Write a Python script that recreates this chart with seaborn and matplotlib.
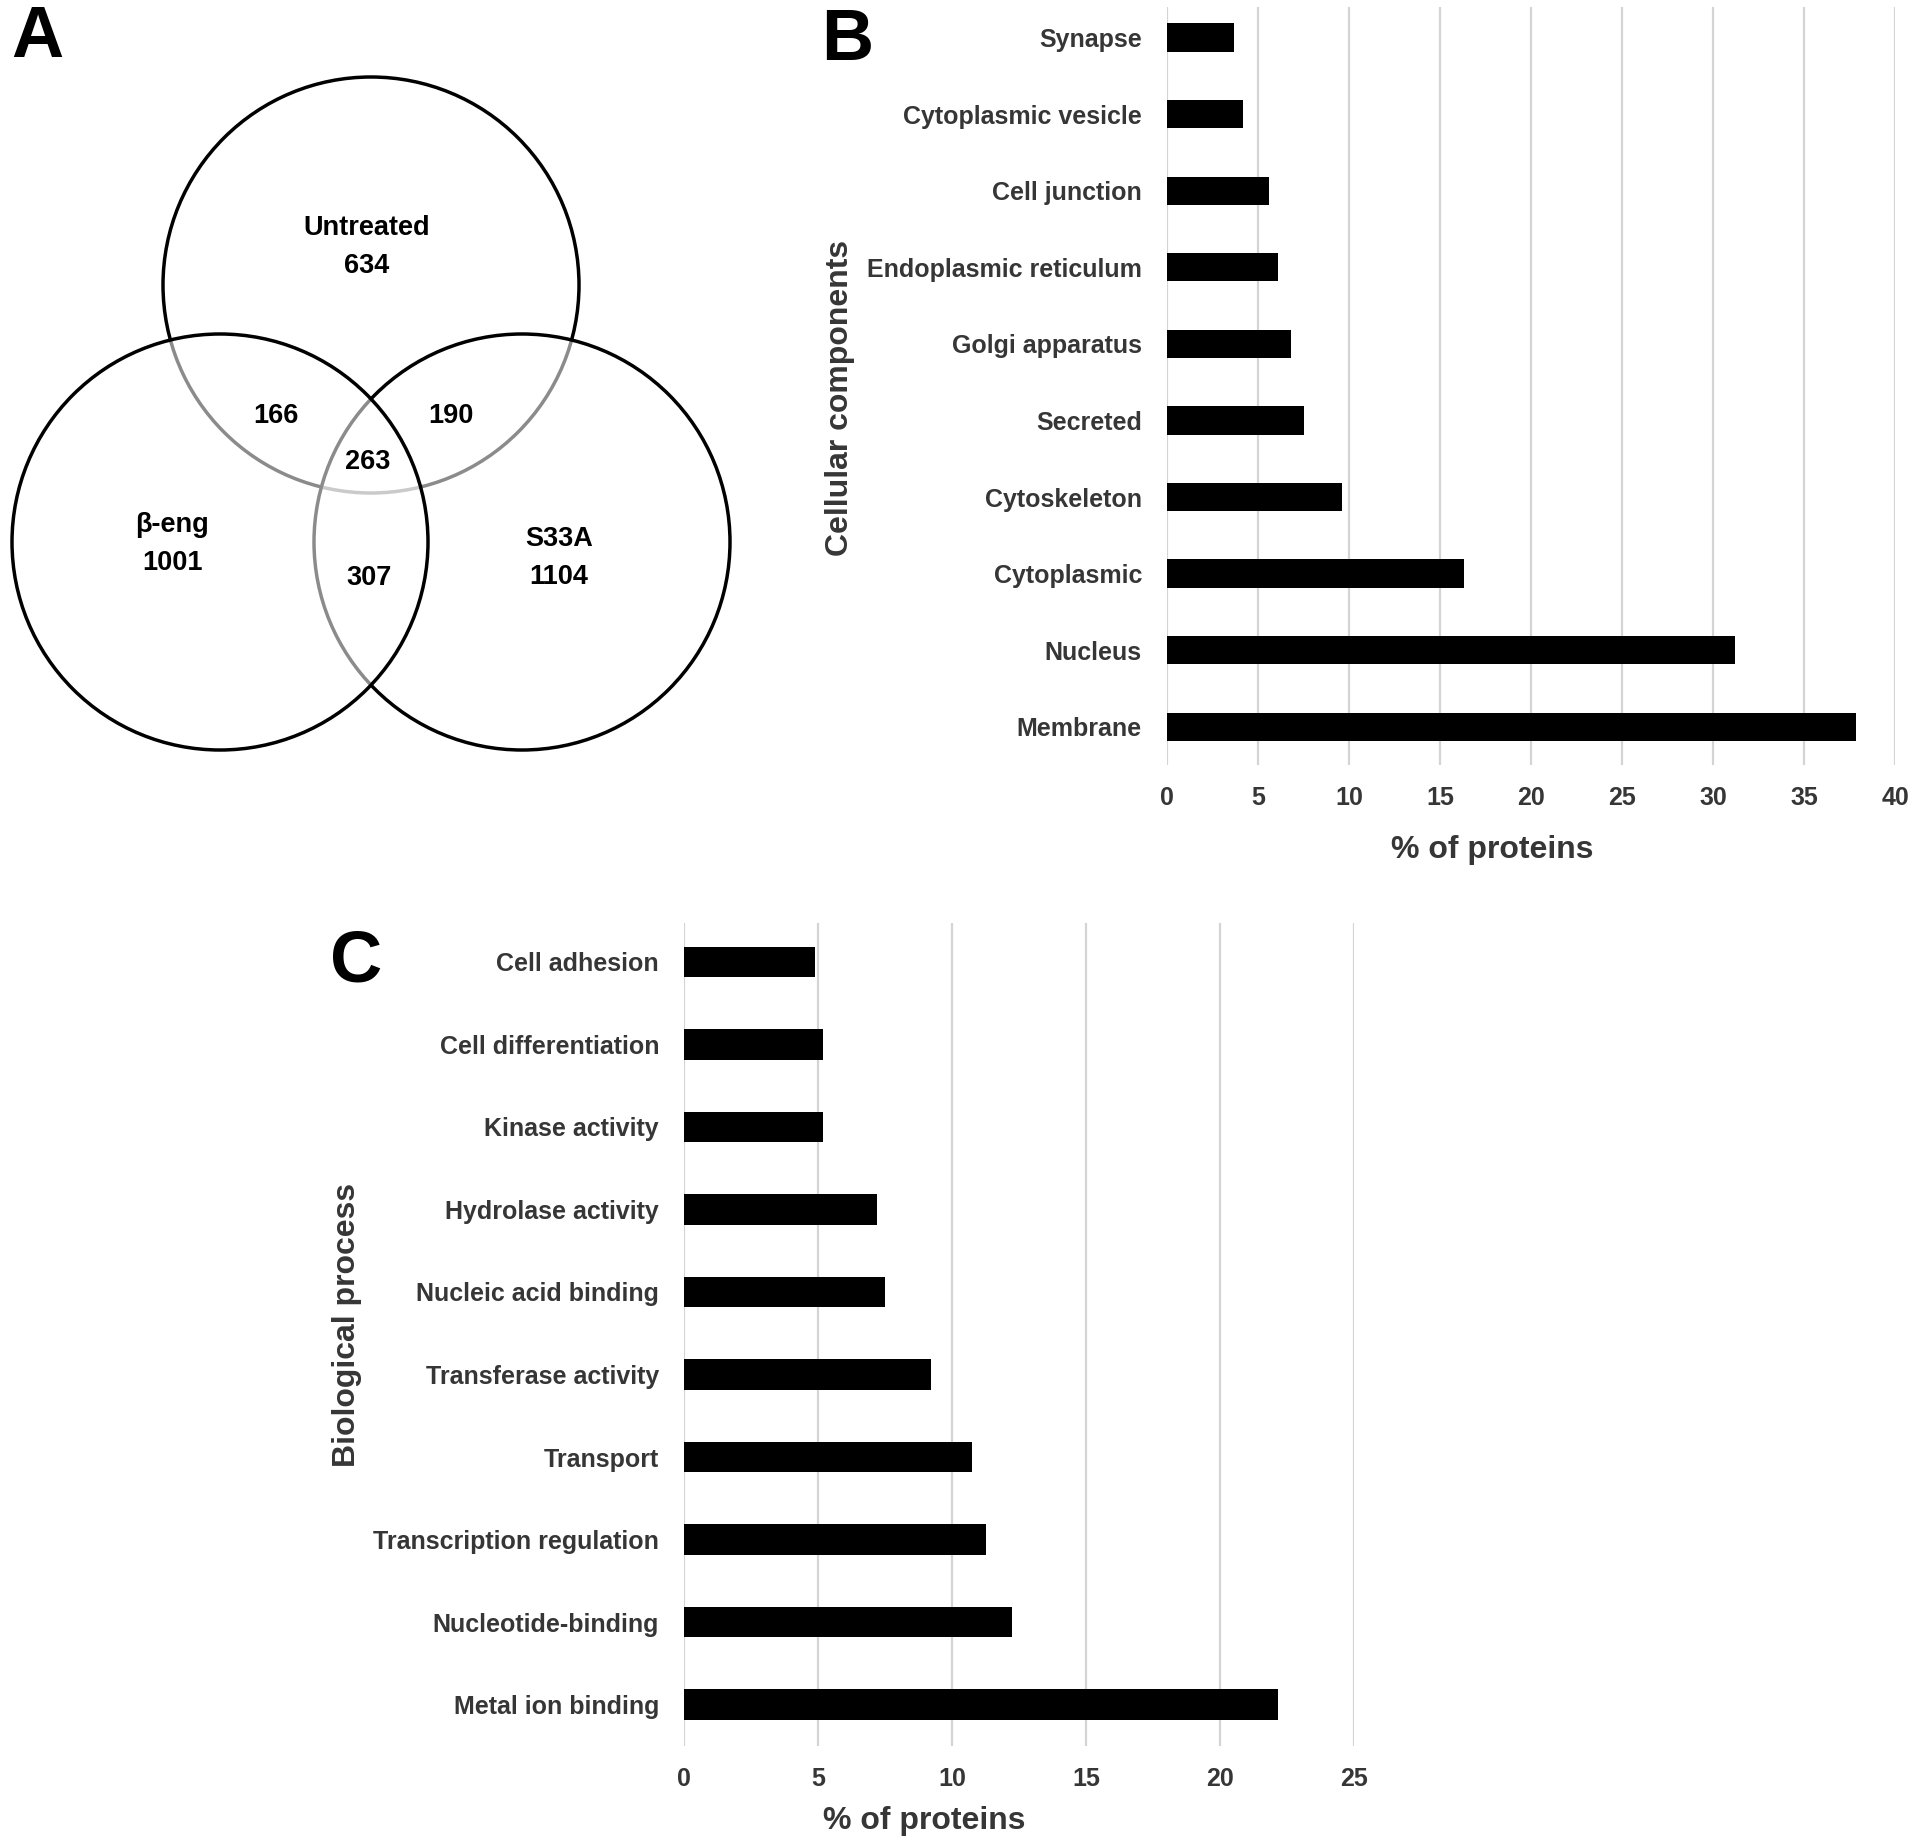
import matplotlib
matplotlib.use("Agg")
import matplotlib.pyplot as plt
import seaborn as sns
import pandas as pd
from matplotlib.patches import Circle

# ---------------- data ----------------
venn_sets = ["Untreated", "β-eng", "S33A"]
venn_only = [634, 1001, 1104]          # Untreated only, β-eng only, S33A only
venn_pairs = [166, 190, 307]           # U&β, U&S, β&S
venn_all = [263]

cc_categories = ["Synapse", "Cytoplasmic vesicle", "Cell junction", "Endoplasmic reticulum",
                 "Golgi apparatus", "Secreted", "Cytoskeleton", "Cytoplasmic", "Nucleus", "Membrane"]
cc_values = [3.7, 4.15, 5.6, 6.1, 6.8, 7.5, 9.6, 16.3, 31.2, 37.85]

bp_categories = ["Cell adhesion", "Cell differentiation", "Kinase activity", "Hydrolase activity",
                 "Nucleic acid binding", "Transferase activity", "Transport",
                 "Transcription regulation", "Nucleotide-binding", "Metal ion binding"]
bp_values = [4.9, 5.2, 5.2, 7.2, 7.5, 9.2, 10.75, 11.27, 12.25, 22.15]

cc_ticks = [0, 5, 10, 15, 20, 25, 30, 35, 40]
bp_ticks = [0, 5, 10, 15, 20, 25]

# ---------------- style ----------------
sns.set_style("white")
plt.rcParams["font.family"] = ["Liberation Sans", "DejaVu Sans"]
plt.rcParams["font.weight"] = "bold"

W, H = 1920, 1845
fig = plt.figure(figsize=(W / 100, H / 100), dpi=100)

def fx(x):
    return x / W

def fy(y):
    return 1 - y / H

def axes_px(left, top, right, bottom):
    return fig.add_axes([fx(left), fy(bottom), (right - left) / W, (bottom - top) / H])

GREY_TXT = "#363636"
GRID = "#d4d4d4"

def style_bar_axes(ax, ticks, xmax, ylim_top):
    ax.set_xlim(0, xmax)
    ax.set_ylim(9.5, ylim_top)
    ax.set_xticks(ticks)
    ax.set_xticklabels([str(t) for t in ticks])
    ax.xaxis.grid(True, color=GRID, linewidth=1.6)
    ax.yaxis.grid(False)
    ax.set_axisbelow(True)
    for s in ax.spines.values():
        s.set_visible(False)
    ax.tick_params(axis="x", length=0, pad=15, labelsize=18, labelcolor=GREY_TXT)
    ax.tick_params(axis="y", length=0, pad=18, labelsize=18, labelcolor=GREY_TXT)
    for lab in ax.get_xticklabels() + ax.get_yticklabels():
        lab.set_fontweight("bold")
    ax.set_xlabel("")
    ax.set_ylabel("")

# ---------------- Panel A: Venn ----------------
axA = fig.add_axes([0, 0, 1, 1])
axA.set_xlim(0, W)
axA.set_ylim(H, 0)
axA.axis("off")

r = 208
centers = {"Untreated": (371, 285), "S33A": (522, 542), "β-eng": (220, 542)}
for name in ["Untreated", "S33A", "β-eng"]:
    axA.add_patch(Circle(centers[name], r, facecolor=(1, 1, 1, 0.55),
                         edgecolor="black", linewidth=2.5, zorder=2))

txt_kw = dict(ha="center", va="center", fontsize=19.5, fontweight="bold", color="black", zorder=5)
axA.text(367, 228, venn_sets[0], **txt_kw)
axA.text(367, 266, str(venn_only[0]), **txt_kw)
axA.text(172, 525, venn_sets[1], **txt_kw)
axA.text(172, 563, str(venn_only[1]), **txt_kw)
axA.text(559, 539, venn_sets[2], **txt_kw)
axA.text(559, 577, str(venn_only[2]), **txt_kw)
axA.text(276, 416, str(venn_pairs[0]), **txt_kw)
axA.text(451, 416, str(venn_pairs[1]), **txt_kw)
axA.text(369, 578, str(venn_pairs[2]), **txt_kw)
axA.text(368, 462, str(venn_all[0]), **txt_kw)

# ---------------- Panel B ----------------
axB = axes_px(1167, 7, 1895, 765)
dfB = pd.DataFrame({"category": cc_categories, "value": cc_values})
sns.barplot(data=dfB, x="value", y="category", orient="h", color="black",
            saturation=1, width=0.37, linewidth=0, ax=axB)
style_bar_axes(axB, cc_ticks, 40, -0.4)

# ---------------- Panel C ----------------
axC = axes_px(684, 923, 1354, 1746)
dfC = pd.DataFrame({"category": bp_categories, "value": bp_values})
sns.barplot(data=dfC, x="value", y="category", orient="h", color="black",
            saturation=1, width=0.37, linewidth=0, ax=axC)
style_bar_axes(axC, bp_ticks, 25, -0.47)

# axis titles
lab_kw = dict(fontsize=23, fontweight="bold", color=GREY_TXT, ha="center", va="center")
fig.text(fx(1492), fy(850), "% of proteins", **lab_kw)
fig.text(fx(840), fy(398), "Cellular components", rotation=90, **lab_kw)
fig.text(fx(924), fy(1821), "% of proteins", **lab_kw)
fig.text(fx(347), fy(1325), "Biological process", rotation=90, **lab_kw)

# panel letters
let_kw = dict(fontsize=52, fontweight="bold", color="black", ha="center", va="center")
fig.text(fx(37), fy(38), "A", **let_kw)
fig.text(fx(847), fy(41), "B", **let_kw)
fig.text(fx(356), fy(962), "C", **let_kw)

fig.savefig("out.png", dpi=100)
